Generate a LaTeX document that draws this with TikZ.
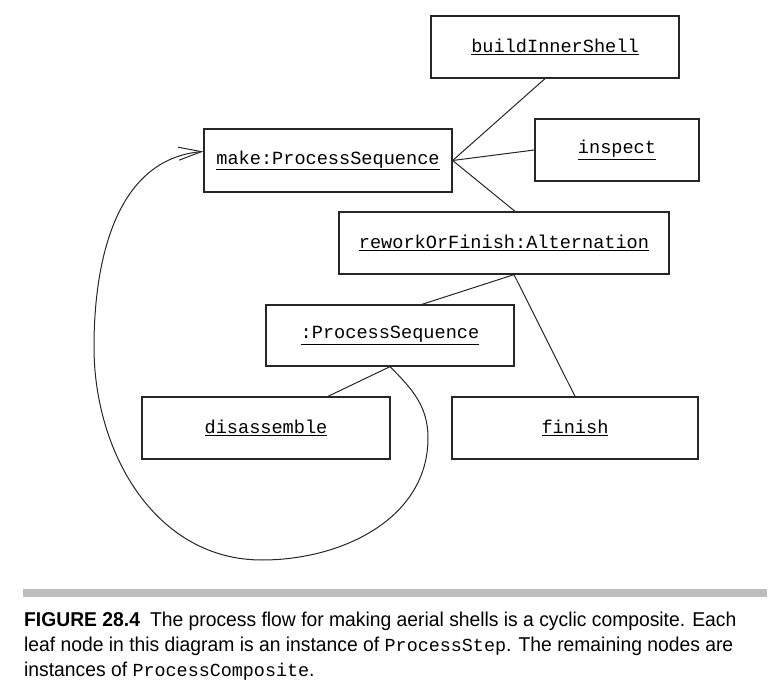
\documentclass[tikz,border=0pt]{standalone}
\usepackage{fontspec}
\setmainfont{Liberation Sans}[FakeStretch=0.965]
\newfontfamily\boxfont{Liberation Mono}
\usepackage{tikz}
\usetikzlibrary{arrows.meta}
\definecolor{rulegray}{HTML}{BDBDBD}
\newcommand{\obj}[1]{\underline{#1}}
\newcommand{\code}[1]{{\boxfont\fontsize{18.4}{25}\selectfont #1}}
\tikzset{
  objbox/.style   = {draw=black!85,line width=1.3pt,inner sep=0pt,
                     font=\boxfont\fontsize{18.6}{22}\selectfont},
  link/.style     = {black!85,line width=1pt},
  loopback/.style = {black!85,line width=1pt,
                     -{Straight Barb[length=23pt,width=13pt,line width=1pt]}}
}

\begin{document}
\begin{tikzpicture}[x=1pt,y=-1pt]
  \useasboundingbox (0,0) rectangle (777,692);
  % object boxes
  \node[objbox,minimum width=248pt,minimum height=62pt] (build)   at (555,47)    {\obj{buildInnerShell}};
  \node[objbox,minimum width=248pt,minimum height=63pt] (make)    at (328,160.5) {\obj{make:ProcessSequence}};
  \node[objbox,minimum width=164pt,minimum height=62pt] (inspect) at (617,150)   {\obj{inspect}};
  \node[objbox,minimum width=330pt,minimum height=62pt] (rework)  at (504,243)   {\obj{reworkOrFinish:Alternation}};
  \node[objbox,minimum width=248pt,minimum height=61pt] (pseq)    at (390,335.5) {\obj{:ProcessSequence}};
  \node[objbox,minimum width=248pt,minimum height=62pt] (disasm)  at (266,428)   {\obj{disassemble}};
  \node[objbox,minimum width=246pt,minimum height=62pt] (finish)  at (575,428)   {\obj{finish}};
  % tree links
  \draw[link] (make.east) -- ([xshift=-10pt]build.south);
  \draw[link] (make.east) -- (inspect.west);
  \draw[link] (make.east) -- ([xshift=11pt]rework.north);
  \draw[link] ([xshift=10pt]rework.south) -- ([xshift=32pt]pseq.north);
  \draw[link] ([xshift=10pt]rework.south) -- (finish.north);
  \draw[link] (pseq.south) -- ([xshift=62pt]disasm.north);
  % cycle back to the top sequence
  \coordinate (loopR) at (428,438);
  \coordinate (loopB) at (262,560);
  \coordinate (loopL) at (94,347);
  \draw[loopback] (pseq.south) to[out=-45,in=90] (loopR)
    to[out=-90,in=0] (loopB) to[out=180,in=-90] (loopL)
    to[out=90,in=185] ([yshift=9pt]make.west);
  % caption
  \fill[rulegray] (23,589) rectangle (767,597);
  \node[anchor=north west,inner sep=0pt,align=left,
        font=\fontsize{20}{25}\selectfont] (caption) at (24,612)
    {\textbf{FIGURE 28.4}\enspace The process flow for making aerial shells is a cyclic composite. Each\\
     leaf node in this diagram is an instance of \code{ProcessStep}. The remaining nodes are\\
     instances of \code{ProcessComposite}.};
\end{tikzpicture}
\end{document}
